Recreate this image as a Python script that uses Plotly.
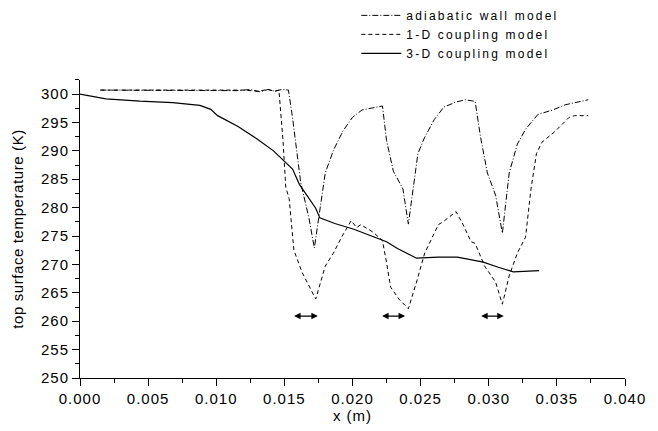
import plotly.graph_objects as go

# ---- data ----
adiabatic_x = [0.0015, 0.004, 0.007, 0.010, 0.0115, 0.0125, 0.0132, 0.0138, 0.0143, 0.0148,
               0.0153, 0.0156, 0.0162, 0.0168, 0.0172, 0.0180, 0.0186, 0.0193, 0.0200, 0.0207,
               0.0215, 0.0222, 0.0225, 0.0230, 0.0237, 0.0241, 0.0248, 0.0253, 0.0260, 0.0267,
               0.0276, 0.0283, 0.0290, 0.0294, 0.0299, 0.0305, 0.0310, 0.0315, 0.0321, 0.0327,
               0.0336, 0.0347, 0.0356, 0.0373]
adiabatic_T = [300.7, 300.7, 300.7, 300.7, 300.6, 300.8, 300.4, 300.8, 300.5, 300.8,
               300.7, 295.8, 284.4, 278.2, 272.9, 286.1, 290.1, 293.5, 295.9, 297.2,
               297.6, 297.9, 291.8, 286.4, 283.3, 277.1, 289.5, 292.4, 295.5, 297.7,
               298.6, 299.0, 298.7, 292.4, 286.1, 282.2, 275.5, 286.1, 291.2, 293.8,
               296.4, 297.2, 298.1, 299.0]

oned_x = [0.0015, 0.004, 0.007, 0.010, 0.012, 0.013, 0.0138, 0.0143, 0.0146, 0.0149,
          0.0151, 0.01535, 0.0157, 0.0163, 0.0169, 0.0173, 0.0180, 0.0186, 0.0192, 0.0199,
          0.0203, 0.0206, 0.0215, 0.0222, 0.0225, 0.0228, 0.0234, 0.0241, 0.0247, 0.0253,
          0.0263, 0.0267, 0.0276, 0.0281, 0.0287, 0.0290, 0.0297, 0.0305, 0.0310, 0.0315,
          0.0321, 0.0327, 0.0331, 0.0335, 0.0339, 0.0349, 0.0359, 0.0363, 0.0373]
oned_T = [300.7, 300.7, 300.7, 300.6, 300.7, 300.5, 300.8, 300.5, 300.7, 291.8,
          283.6, 281.6, 272.5, 268.6, 265.7, 263.9, 269.7, 272.0, 274.8, 277.7,
          276.5, 277.0, 275.7, 274.2, 270.3, 266.0, 263.9, 262.2, 266.9, 272.0,
          277.0, 277.6, 279.3, 277.1, 274.0, 273.7, 269.7, 266.9, 263.0, 268.0,
          272.0, 274.8, 283.3, 289.5, 291.5, 293.5, 295.9, 296.2, 296.2]

threed_x = [0.0, 0.0019, 0.0044, 0.0068, 0.0088, 0.0096, 0.0101, 0.0116, 0.0130, 0.0142,
            0.0156, 0.0161, 0.0173, 0.0176, 0.0187, 0.0201, 0.0225, 0.0233, 0.0247, 0.0263,
            0.0277, 0.0296, 0.0307, 0.0318, 0.0337]
threed_T = [300.0, 299.15, 298.75, 298.5, 298.0, 297.3, 296.2, 294.3, 292.1, 290.0,
            286.8, 284.1, 279.9, 278.2, 277.2, 276.2, 274.0, 272.8, 271.1, 271.3,
            271.3, 270.4, 269.5, 268.7, 268.9]

series_names = ["adiabatic wall model", "1-D coupling model", "3-D coupling model"]

arrow_T = 260.9
arrow_start = [0.0156, 0.02206, 0.02933]
arrow_end = [0.01746, 0.02386, 0.0311]

x_ticks = [0.000, 0.005, 0.010, 0.015, 0.020, 0.025, 0.030, 0.035, 0.040]
y_ticks = [250, 255, 260, 265, 270, 275, 280, 285, 290, 295, 300]

FONT = "Liberation Sans, Arial, sans-serif"


def spaced(s, px):
    return f'<span style="letter-spacing:{px}px">{s}</span>'


fig = go.Figure()
fig.add_trace(go.Scatter(x=adiabatic_x, y=adiabatic_T, mode="lines",
                         name=spaced(series_names[0], 2.2),
                         line=dict(color="black", width=1, dash="6px,2px,1px,2px")))
fig.add_trace(go.Scatter(x=oned_x, y=oned_T, mode="lines",
                         name=spaced(series_names[1], 2.2),
                         line=dict(color="black", width=1, dash="4px,3px")))
fig.add_trace(go.Scatter(x=threed_x, y=threed_T, mode="lines",
                         name=spaced(series_names[2], 2.2),
                         line=dict(color="black", width=1.2)))

for xs, xe in zip(arrow_start, arrow_end):
    fig.add_annotation(x=xe, y=arrow_T, ax=xs, ay=arrow_T, xref="x", yref="y",
                       axref="x", ayref="y", text="", showarrow=True,
                       arrowhead=2, arrowside="end+start", arrowsize=1,
                       arrowwidth=1.3, arrowcolor="black", standoff=0, startstandoff=0)

fig.update_layout(
    width=658, height=431,
    margin=dict(l=80, r=22, t=73, b=48),
    paper_bgcolor="white", plot_bgcolor="white",
    font=dict(family=FONT, size=15, color="black"),
    showlegend=True,
    legend=dict(x=0.507, y=0.998, xref="paper", yref="container",
                xanchor="left", yanchor="top",
                bgcolor="rgba(0,0,0,0)", font=dict(family=FONT, size=12),
                tracegroupgap=0, itemwidth=40),
    xaxis=dict(range=[0, 0.04], tickvals=x_ticks,
               ticktext=[spaced(f"{v:.3f}", 1.0) for v in x_ticks],
               showgrid=False, zeroline=False, showline=True, linecolor="black",
               linewidth=1, ticks="outside", ticklen=7, tickwidth=1, tickcolor="black",
               minor=dict(dtick=0.0025, ticks="outside", ticklen=4, tickcolor="black", showgrid=False),
               title=dict(text=spaced("x (m)", 1.0), font=dict(size=15), standoff=1)),
    yaxis=dict(range=[250, 302.5], tickvals=y_ticks,
               ticktext=[spaced(str(v), 1.0) for v in y_ticks],
               showgrid=False, zeroline=False, showline=True, linecolor="black",
               linewidth=1, ticks="outside", ticklen=7, tickwidth=1, tickcolor="black",
               minor=dict(dtick=2.5, ticks="outside", ticklen=4, tickcolor="black", showgrid=False),
               title=dict(text=spaced("top surface temperature (K)", 0.6), font=dict(size=15),
                          standoff=13)),
)

fig.write_html("out.html")
